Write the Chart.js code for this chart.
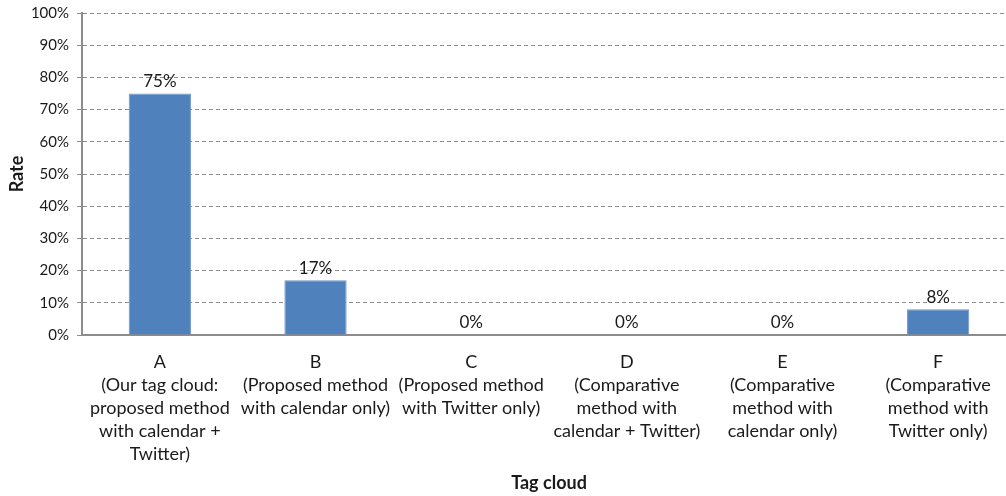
<!DOCTYPE html>
<html>
<head>
<meta charset="utf-8">
<script src="https://cdn.jsdelivr.net/npm/chart.js@4/dist/chart.umd.min.js"></script>
<style>
  html, body { margin: 0; padding: 0; background: #fff; overflow: hidden; }
  #wrap { width: 1016px; height: 496px; }
</style>
</head>
<body>
<div id="wrap"><canvas id="chart"></canvas></div>
<script>
// tag cloud variants, one multi-line label each
const categories = [
    ['A', '(Our tag cloud:', 'proposed method', 'with calendar +', 'Twitter)'],
    ['B', '(Proposed method', 'with calendar only)'],
    ['C', '(Proposed method', 'with Twitter only)'],
    ['D', '(Comparative', 'method with', 'calendar + Twitter)'],
    ['E', '(Comparative', 'method with', 'calendar only)'],
    ['F', '(Comparative', 'method with', 'Twitter only)']
];
const rates = [75, 17, 0, 0, 0, 8];
const yTicks = [0, 10, 20, 30, 40, 50, 60, 70, 80, 90, 100];

const FONT = 'Lato, "Open Sans", sans-serif';
const TEXT = '#1a1a1a';
const GRID = '#8c8c8c';

// value labels above each bar
const valueLabels = {
    id: 'valueLabels',
    afterDatasetsDraw(chart) {
        const { ctx } = chart;
        const meta = chart.getDatasetMeta(0);
        ctx.save();
        ctx.font = '17px ' + FONT;
        ctx.fillStyle = TEXT;
        ctx.textAlign = 'center';
        ctx.textBaseline = 'middle';
        meta.data.forEach((bar, i) => {
            ctx.fillText(rates[i] + '%', bar.x, bar.y - 12);
        });
        ctx.restore();
    }
};

new Chart(document.getElementById('chart'), {
    type: 'bar',
    data: {
        labels: categories,
        datasets: [{
            label: 'Rate',
            data: rates,
            backgroundColor: '#4f81bd',
            borderColor: '#6f97c9',
            borderWidth: 1,
            categoryPercentage: 1,
            barPercentage: 0.4
        }]
    },
    options: {
        responsive: true,
        maintainAspectRatio: false,
        animation: false,
        layout: { padding: 0 },
        plugins: {
            legend: { display: false },
            tooltip: { enabled: false }
        },
        scales: {
            y: {
                min: 0,
                max: 100,
                afterBuildTicks: (scale) => { scale.ticks = yTicks.map(v => ({ value: v })); },
                afterFit: (scale) => {
                    scale.width = 82;
                    scale.paddingTop = 13;
                },
                ticks: {
                    color: TEXT,
                    padding: 8,
                    font: { family: FONT, size: 15 },
                    callback: (val) => val + '%'
                },
                grid: {
                    color: GRID,
                    lineWidth: 1,
                    tickLength: 5,
                    tickBorderDash: [],
                    tickColor: GRID
                },
                border: { color: GRID, width: 2, dash: [4, 3] },
                title: {
                    display: true,
                    text: 'Rate',
                    color: TEXT,
                    padding: { top: 6, bottom: 0 },
                    font: { family: FONT, size: 18, weight: 'bold' }
                }
            },
            x: {
                afterFit: (scale) => { scale.height = 161; },
                ticks: {
                    color: TEXT,
                    padding: 8,
                    autoSkip: false,
                    maxRotation: 0,
                    font: { family: FONT, size: 18, lineHeight: 1.28 }
                },
                grid: { display: false },
                border: { color: GRID, width: 2 },
                title: {
                    display: true,
                    text: 'Tag cloud',
                    color: TEXT,
                    padding: { top: 4, bottom: 2 },
                    font: { family: FONT, size: 18, weight: 'bold' }
                }
            }
        }
    },
    plugins: [valueLabels]
});
</script>
</body>
</html>
